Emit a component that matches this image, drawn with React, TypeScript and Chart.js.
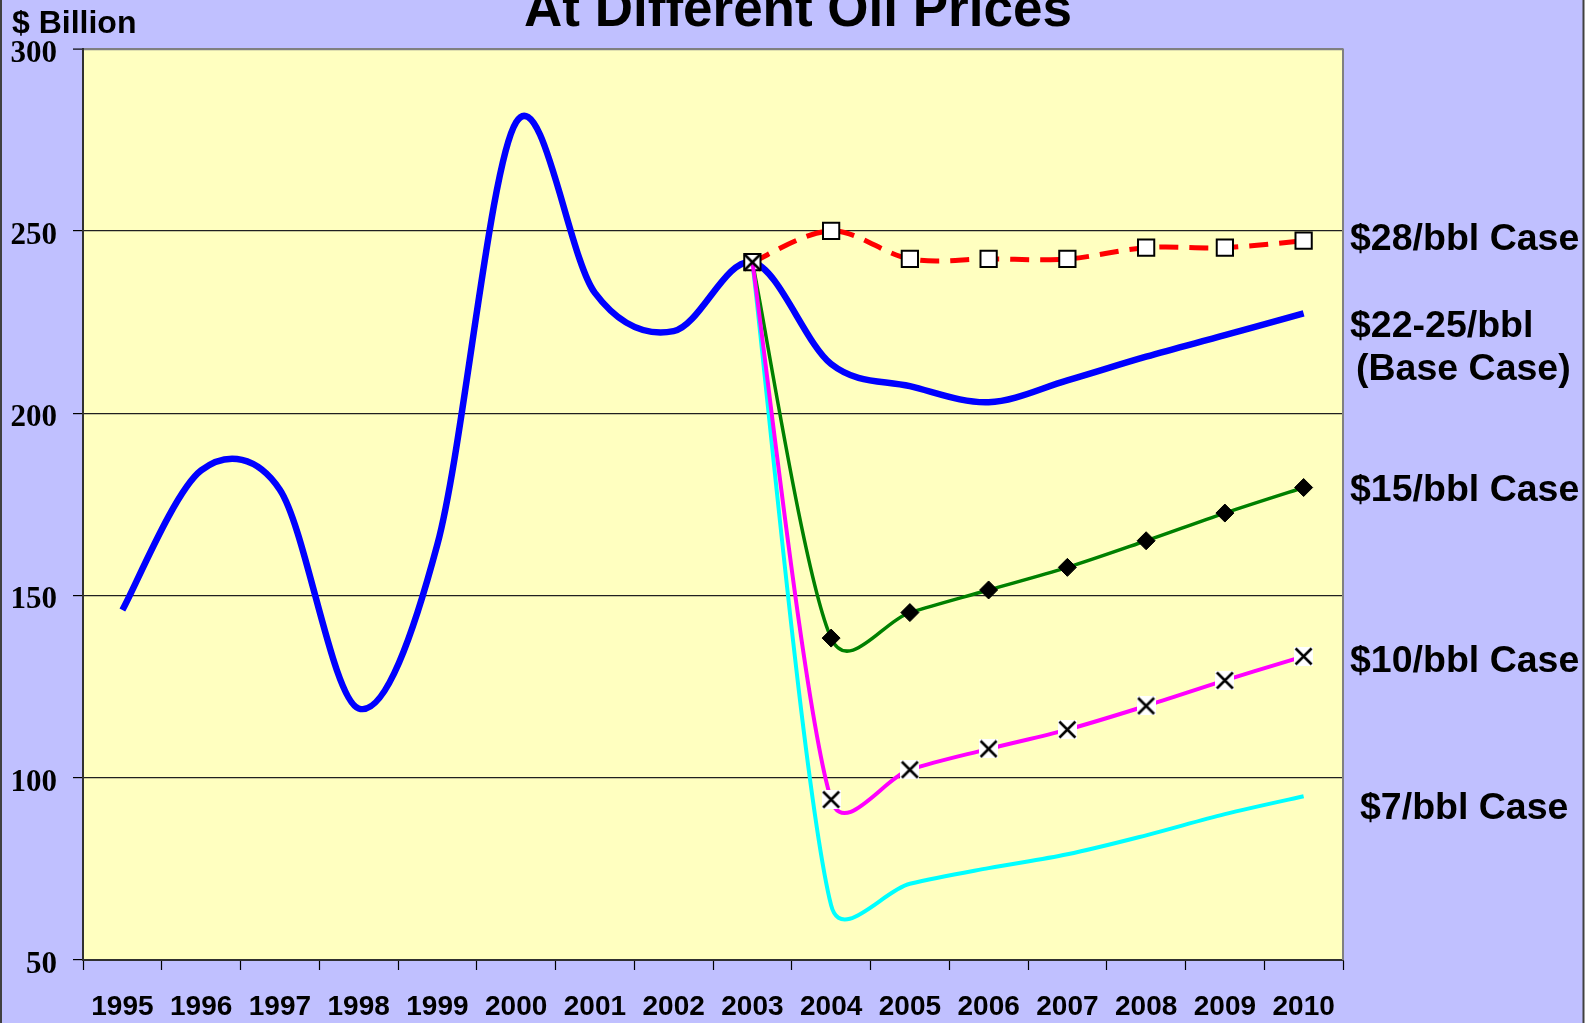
import React, { useEffect, useRef } from 'react';
import { Chart, registerables } from 'chart.js';

Chart.register(...registerables);

const years = ['1995', '1996', '1997', '1998', '1999', '2000', '2001', '2002', '2003', '2004', '2005', '2006', '2007', '2008', '2009', '2010'];
const baseCase = [146, 184.3, 179, 119, 164, 279.8, 233, 222.5, 241.4, 213.5, 207.4, 203, 209, 215.5, 221.4, 227.4];
const case28 = [null, null, null, null, null, null, null, null, 241.4, 250, 242.3, 242.3, 242.3, 245.4, 245.4, 247.3];
const case15 = [null, null, null, null, null, null, null, null, 241.4, 138.3, 145.3, 151.5, 157.7, 165, 172.6, 179.6];
const case10 = [null, null, null, null, null, null, null, null, 241.4, 94, 102.2, 107.9, 113.2, 119.7, 126.7, 133.3];
const case7 = [null, null, null, null, null, null, null, null, 241.4, 65, 70.9, 75.2, 79, 84.2, 90, 94.9];
const yTicks = [50, 100, 150, 200, 250, 300];
const titleText = 'At Different Oil Prices';
const unitText = '$ Billion';
const sideLabels = ['$28/bbl Case', '$22-25/bbl', '(Base Case)', '$15/bbl Case', '$10/bbl Case', '$7/bbl Case'];

const SANS = '"Liberation Sans", Arial, sans-serif';
const SERIF = '"Liberation Serif", "Times New Roman", serif';
const SMOOTH_K = 1 / 6;
const SMOOTH_CLAMP = 0.5;

function makeX(withBg: boolean): HTMLCanvasElement {
  const s = 19;
  const c = document.createElement('canvas');
  c.width = s;
  c.height = s;
  const g = c.getContext('2d')!;
  if (withBg) {
    g.fillStyle = '#ffffff';
    g.fillRect(0, 0, s, s);
  }
  g.strokeStyle = '#000000';
  g.lineWidth = 2.5;
  g.beginPath();
  g.moveTo(1.5, 1.5);
  g.lineTo(s - 1.5, s - 1.5);
  g.moveTo(s - 1.5, 1.5);
  g.lineTo(1.5, s - 1.5);
  g.stroke();
  return c;
}

export default function App() {
  const ref = useRef<HTMLCanvasElement | null>(null);

  useEffect(() => {
    if (!ref.current) return;
    const xBg = makeX(true);
    const xNoBg = makeX(false);

    const smooth = {
      id: 'smooth',
      beforeDatasetsDraw(chart: any) {
        chart.data.datasets.forEach((_ds: any, i: number) => {
          const meta = chart.getDatasetMeta(i);
          const line = meta.dataset;
          if (!line) return;
          if (typeof line.updateControlPoints === 'function') {
            line.updateControlPoints(chart.chartArea, meta.indexAxis);
          }
          const pts = meta.data.filter((p: any) => !p.skip);
          const n = pts.length;
          for (let j = 0; j < n; j++) {
            const p = pts[j];
            const a = pts[Math.max(j - 1, 0)];
            const b = pts[Math.min(j + 1, n - 1)];
            const dx = (b.x - a.x) * SMOOTH_K;
            const dy = (b.y - a.y) * SMOOTH_K;
            const len = Math.hypot(dx, dy) || 1;
            const back = Math.hypot(p.x - a.x, p.y - a.y);
            const fwd = Math.hypot(b.x - p.x, b.y - p.y);
            const sb = Math.min(1, (SMOOTH_CLAMP * back) / len);
            const sf = Math.min(1, (SMOOTH_CLAMP * fwd) / len);
            p.cp1x = p.x - dx * sb;
            p.cp1y = p.y - dy * sb;
            p.cp2x = p.x + dx * sf;
            p.cp2y = p.y + dy * sf;
          }
          line._path = undefined;
        });
      },
    };

    const decor = {
      id: 'decor',
      beforeDraw(chart: any) {
        const { ctx, chartArea: a, width, height } = chart;
        ctx.save();
        ctx.fillStyle = '#ffffff';
        ctx.fillRect(0, 0, width, height);
        ctx.fillStyle = '#C0C0FF';
        ctx.fillRect(0, 0, 1584, height);
        ctx.strokeStyle = '#404040';
        ctx.lineWidth = 2;
        ctx.beginPath();
        ctx.moveTo(1, 0);
        ctx.lineTo(1, height);
        ctx.moveTo(1583.5, 0);
        ctx.lineTo(1583.5, height);
        ctx.stroke();
        ctx.fillStyle = '#FFFFC0';
        ctx.fillRect(a.left, a.top, a.right - a.left, a.bottom - a.top);
        ctx.restore();
      },
      afterDraw(chart: any) {
        const { ctx, chartArea: a } = chart;
        ctx.save();
        ctx.strokeStyle = '#808080';
        ctx.lineWidth = 2;
        ctx.beginPath();
        ctx.moveTo(a.right, a.top);
        ctx.lineTo(a.right, a.bottom);
        ctx.stroke();

        ctx.fillStyle = '#000000';
        ctx.textBaseline = 'alphabetic';
        ctx.textAlign = 'center';
        ctx.font = `bold 53px ${SANS}`;
        ctx.fillText(titleText, 798, 26);

        ctx.textAlign = 'left';
        ctx.font = `bold 32px ${SANS}`;
        ctx.fillText(unitText, 12, 33);

        ctx.font = `bold 37.5px ${SANS}`;
        const pos = [
          [1350, 250],
          [1350, 336.5],
          [1356, 380],
          [1350, 500.5],
          [1350, 671.5],
          [1360, 818.5],
        ];
        sideLabels.forEach((t, i) => ctx.fillText(t, pos[i][0], pos[i][1]));
        ctx.restore();
      },
    };

    const chart = new Chart(ref.current, {
      type: 'line',
      data: {
        labels: years,
        datasets: [
          {
            label: '$10/bbl Case',
            data: case10,
            borderColor: '#FF00FF',
            borderWidth: 4,
            tension: 0.4,
            pointStyle: (c: any) => (c.dataIndex === 8 ? xNoBg : xBg),
            pointRadius: 9,
          },
          {
            label: '$28/bbl Case',
            data: case28,
            borderColor: '#FF0000',
            borderWidth: 5,
            borderDash: [19, 11],
            tension: 0.4,
            pointStyle: 'rect',
            pointRadius: 11.5,
            pointBackgroundColor: '#FFFFFF',
            pointBorderColor: '#000000',
            pointBorderWidth: 2,
          },
          {
            label: '$15/bbl Case',
            data: case15,
            borderColor: '#008000',
            borderWidth: 3.5,
            tension: 0.4,
            pointStyle: 'rectRot',
            pointRadius: (c: any) => (c.dataIndex === 8 ? 0 : 9),
            pointBackgroundColor: '#000000',
            pointBorderColor: '#000000',
            pointBorderWidth: 1,
          },
          {
            label: '$7/bbl Case',
            data: case7,
            borderColor: '#00FFFF',
            borderWidth: 4,
            tension: 0.4,
            pointRadius: 0,
          },
          {
            label: '$22-25/bbl (Base Case)',
            data: baseCase,
            borderColor: '#0000FF',
            borderWidth: 6.5,
            tension: 0.4,
            pointRadius: 0,
          },
        ],
      },
      options: {
        animation: false,
        responsive: false,
        events: [],
        layout: { padding: { left: 0, top: 48.6, right: 246, bottom: 0 } },
        plugins: { legend: { display: false }, title: { display: false }, tooltip: { enabled: false } },
        scales: {
          x: {
            type: 'category',
            offset: true,
            afterFit: (s: any) => {
              s.height = 63;
            },
            grid: {
              offset: true,
              drawOnChartArea: false,
              drawTicks: true,
              tickLength: 10,
              color: '#000000',
              tickColor: '#000000',
              tickWidth: 1.2,
            },
            border: { display: true, color: '#303030', width: 2 },
            ticks: {
              autoSkip: false,
              maxRotation: 0,
              padding: 20,
              color: '#000000',
              font: { family: SANS, size: 28, weight: 'bold' },
            },
          },
          y: {
            min: 50,
            max: 300,
            afterFit: (s: any) => {
              s.width = 83;
            },
            afterBuildTicks: (s: any) => {
              s.ticks = yTicks.map((v) => ({ value: v }));
            },
            grid: {
              drawTicks: true,
              tickLength: 10,
              color: (c: any) => (c.tick && c.tick.value === 300 ? '#808080' : '#202020'),
              lineWidth: (c: any) => (c.tick && c.tick.value === 300 ? 2.2 : 1.2),
              tickColor: '#000000',
              tickWidth: 1.2,
            },
            border: { display: true, color: '#303030', width: 2 },
            ticks: {
              padding: 16,
              labelOffset: 5,
              color: '#000000',
              font: { family: SERIF, size: 31, weight: 'bold' },
            },
          },
        },
      },
      plugins: [decor, smooth],
    } as any);

    return () => chart.destroy();
  }, []);

  return (
    <div style={{ position: 'fixed', left: 0, top: 0, width: 1589, height: 1023 }}>
      <canvas ref={ref} width={1589} height={1023} style={{ display: 'block', width: 1589, height: 1023 }} />
    </div>
  );
}
